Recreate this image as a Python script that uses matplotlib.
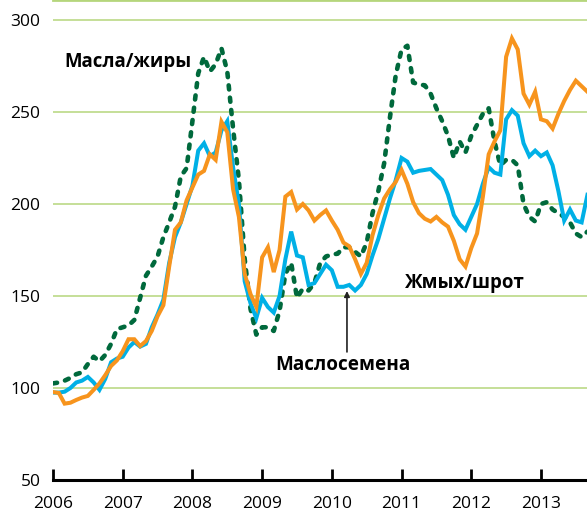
import matplotlib
matplotlib.use("Agg")
import matplotlib.pyplot as plt
import numpy as np

# Monthly index values, Jan 2006 .. Sep 2013
oils = [102.5, 103, 104, 105.5, 107.5, 108.5, 113, 117, 114.5, 118, 124, 132,
        133, 134, 137, 149, 161, 166, 171.5, 182, 190, 198.5, 215, 219.5,
        245, 271, 280, 272, 276, 284.6, 272, 241, 213, 170, 143, 129,
        133, 133, 131, 142, 162, 168, 149, 154, 153, 157, 168, 171.5,
        172.5, 173, 176.5, 176.5, 174, 171.5, 179, 195, 207, 222, 247, 270,
        284, 286, 266, 265, 264.5, 260, 252, 245, 237, 225, 234, 228,
        237, 243, 249, 252, 234, 221, 224, 224, 221, 200, 193, 190.5,
        200, 201, 197, 195, 193, 190, 184, 182, 185]
oilseeds = [97.5, 97.5, 98, 100, 103, 104, 106, 103, 99, 105, 114, 116,
            117, 122, 125, 122.5, 124, 133, 140, 148, 168, 182, 190, 200,
            210, 229, 233, 226, 228, 240, 245, 220, 200, 158, 146, 138,
            149, 144, 141, 150, 170, 185, 172, 171, 156, 157, 162, 167,
            164, 155, 155, 156, 153, 156, 162, 172, 181, 192, 203, 213,
            225, 223, 217, 218, 218.5, 219, 216, 213, 205, 194, 189, 186,
            193, 200, 211, 220, 217, 216, 246, 251, 248, 233, 226, 229,
            226, 228, 221, 207, 191, 197, 191, 190, 205]
meal = [97.8, 97.3, 91.5, 92, 93.5, 94.8, 95.7, 99, 102.5, 107, 112, 115,
        120, 126.5, 126.5, 122.8, 125.5, 131, 139, 145, 166, 186, 190, 202,
        209, 216, 218, 227, 224, 244.7, 239, 208, 193, 162, 151, 144,
        171, 176.5, 163, 175, 204, 206.5, 197, 200, 196.5, 191, 194, 196.5,
        191, 186, 179, 177, 170, 162, 168, 183, 194, 203, 208, 212,
        218.5, 211, 201, 195, 192, 190.5, 193, 190, 187.7, 180, 170, 166,
        176, 184, 204, 227, 234, 240, 280, 290, 284, 260, 254, 261,
        246, 245, 241, 249, 256, 262, 267, 264, 261]

years = [2006, 2007, 2008, 2009, 2010, 2011, 2012, 2013]
yticks = [50, 100, 150, 200, 250, 300]

t = 2006 + np.arange(len(oils)) / 12.0

W, H = 587, 511
fig = plt.figure(figsize=(W / 100, H / 100), dpi=100)
ax = fig.add_axes([53 / W, 31 / H, 534 / W, 480 / H])

font = "Open Sans"
grid_c = "#b5d67c"
for v in yticks[1:]:
    ax.axhline(v, color=grid_c, lw=1.1, zorder=0)

ax.plot(t, oils, color="#00693c", lw=3.3, linestyle=(0, (0.9, 1.8)),
        dash_capstyle="round", zorder=2)
ax.plot(t, oilseeds, color="#00b0e6", lw=2.9, solid_joinstyle="miter", zorder=3)
ax.plot(t, meal, color="#f7941d", lw=2.9, solid_joinstyle="miter", zorder=4)

ax.set_xlim(2006, 2006 + 534 / 69.71)
ax.set_ylim(50, 50 + 480 / 1.84)

ax.set_xticks(years)
ax.set_xticklabels([str(y) for y in years], fontfamily=font, fontsize=12.5)
ax.set_yticks(yticks)
ax.set_yticklabels([str(v) for v in yticks], fontfamily=font, fontsize=12.5)
ax.tick_params(axis="x", direction="in", length=8, width=2, color="black", pad=11.5)
ax.tick_params(axis="y", length=0, pad=9)

for s in ["left", "right"]:
    ax.spines[s].set_visible(False)
ax.spines["top"].set_color(grid_c)
ax.spines["top"].set_linewidth(2)
ax.spines["bottom"].set_color("black")
ax.spines["bottom"].set_linewidth(2.2)

ax.text(2006.17, 277.2, "Масла/жиры", fontfamily=font, fontweight="bold",
        fontsize=13.4, ha="left", va="center")
ax.text(2011.05, 157, "Жмых/шрот", fontfamily=font, fontweight="bold",
        fontsize=13.4, ha="left", va="center")
ax.text(2009.185, 112.5, "Маслосемена", fontfamily=font, fontweight="bold",
        fontsize=13.6, ha="left", va="center")
ax.annotate("", xy=(2010.217, 152.7), xytext=(2010.217, 119.6),
            arrowprops=dict(arrowstyle="-|>", color="#222222", lw=1.2,
                            mutation_scale=8, shrinkA=0, shrinkB=0))

fig.savefig("out.png", dpi=100)
